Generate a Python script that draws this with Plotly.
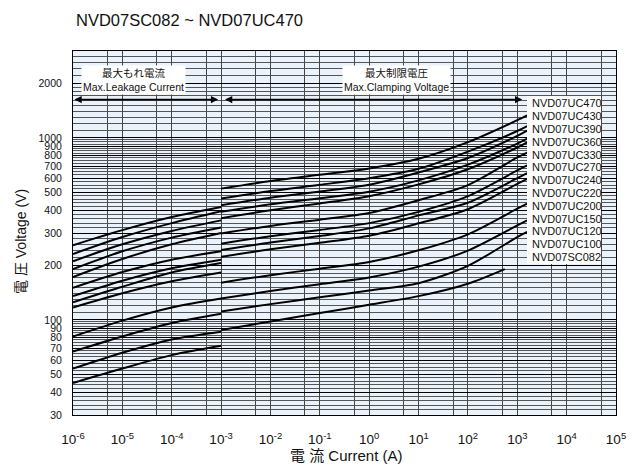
import math
import plotly.graph_objects as go

# ---------------- data ----------------
models = ["NVD07UC470", "NVD07UC430", "NVD07UC390", "NVD07UC360", "NVD07UC330",
          "NVD07UC270", "NVD07UC240", "NVD07UC220", "NVD07UC200", "NVD07UC150",
          "NVD07UC120", "NVD07UC100", "NVD07SC082"]

# Max. leakage current region (A) and voltages (V)
leak_current = [1e-6, 1e-5, 1e-4, 1e-3]
leak_470 = [257, 311, 367, 417]
leak_430 = [230, 285, 340, 395]
leak_390 = [210, 260, 308, 352]
leak_360 = [190, 238, 283, 322]
leak_330 = [172, 216, 260, 300]
leak_270 = [150, 183, 214, 238]
leak_240 = [135, 164, 192, 214]
leak_220 = [125, 152, 182, 205]
leak_200 = [117, 140, 163, 182]
leak_150 = [81, 99, 117, 131]
leak_120 = [67, 81, 96, 108]
leak_100 = [54, 66, 78, 86]
leak_082 = [45, 54, 64, 72]

# Max. clamping voltage region (A) and voltages (V)
clamp_current = [1e-3, 1e-2, 1e-1, 1, 10, 100, 1000, 1585]
clamp_current_082 = [1e-3, 1e-2, 1e-1, 1, 10, 100, 560]
clamp_470 = [526, 579, 626, 679, 767, 947, 1250, 1330]
clamp_430 = [464, 510, 552, 600, 676, 840, 1090, 1160]
clamp_390 = [426, 469, 507, 552, 645, 775, 1025, 1095]
clamp_360 = [392, 431, 466, 506, 584, 712, 930, 990]
clamp_330 = [362, 400, 436, 478, 555, 672, 885, 945]
clamp_270 = [298, 328, 355, 386, 454, 550, 780, 830]
clamp_240 = [262, 288, 312, 340, 392, 478, 662, 705]
clamp_220 = [242, 266, 289, 318, 375, 440, 600, 640]
clamp_200 = [222, 244, 265, 290, 339, 405, 558, 595]
clamp_150 = [160, 176, 191, 208, 241, 295, 408, 435]
clamp_120 = [131, 144, 157, 171, 196, 240, 330, 352]
clamp_100 = [111, 122, 133, 145, 159, 198, 285, 304]
clamp_082 = [88, 98, 109, 121, 135, 158, 190]

# axis ticks
x_tick_exponents = [-6, -5, -4, -3, -2, -1, 0, 1, 2, 3, 4, 5]
y_tick_values = [30, 40, 50, 60, 70, 80, 90, 100, 200, 300, 400, 500, 600,
                 700, 800, 900, 1000, 2000]
y_minor_values = ([32, 34, 36, 38, 42, 44, 46, 48]
                  + [52.5, 55, 57.5, 62.5, 65, 67.5, 72.5, 75, 77.5, 82.5, 85, 87.5, 92.5, 95, 97.5]
                  + [110, 120, 130, 140, 150, 160, 170, 180, 190]
                  + [220, 240, 260, 280, 320, 340, 360, 380, 420, 440, 460, 480]
                  + [525, 550, 575, 625, 650, 675, 725, 750, 775, 825, 850, 875, 925, 950, 975]
                  + [1100, 1200, 1300, 1400, 1500, 1600, 1700, 1800, 1900]
                  + [2200, 2400, 2600, 2800, 3000])

title_text = "NVD07SC082 ~ NVD07UC470"
leak_label = "最大もれ電流<br>Max.Leakage Current"
clamp_label = "最大制限電圧<br>Max.Clamping Voltage"
x_title = "電 流 Current (A)"
y_title = "電 圧 Voltage (V)"

leak_series = [leak_470, leak_430, leak_390, leak_360, leak_330, leak_270, leak_240,
               leak_220, leak_200, leak_150, leak_120, leak_100, leak_082]
clamp_series = [clamp_470, clamp_430, clamp_390, clamp_360, clamp_330, clamp_270, clamp_240,
                clamp_220, clamp_200, clamp_150, clamp_120, clamp_100, clamp_082]
clamp_x = [clamp_current] * 12 + [clamp_current_082]

FONT = "Arial, 'Liberation Sans', 'Noto Sans CJK JP', sans-serif"
TXT = "#111"

fig = go.Figure()
line_style = dict(color="black", width=2, shape="spline", smoothing=0.8)
for name, lv in zip(models, leak_series):
    fig.add_trace(go.Scatter(x=leak_current, y=lv, mode="lines", line=line_style,
                             name=name, showlegend=False, hoverinfo="skip"))
for name, cx, cv in zip(models, clamp_x, clamp_series):
    fig.add_trace(go.Scatter(x=cx, y=cv, mode="lines", line=line_style,
                             name=name, showlegend=False, hoverinfo="skip"))

# plot geometry (screen pixels); the page body adds an 8px offset
OFF = 8
L, R, T, B = 73, 616, 51, 415
W, H = 641, 469
PW, PH = R - L, B - T


def px(xpix):
    return (xpix - L) / PW


def py(ypix):
    return (B - ypix) / PH


annotations = []
# title
annotations.append(dict(text=title_text, xref="paper", yref="paper", x=px(74), y=py(20),
                        xanchor="left", yanchor="middle", showarrow=False,
                        font=dict(size=16.5, color=TXT, family=FONT)))
# axis titles
annotations.append(dict(text=x_title, xref="paper", yref="paper", x=px(346), y=py(455),
                        xanchor="center", yanchor="middle", showarrow=False,
                        font=dict(size=15, color=TXT, family=FONT)))
annotations.append(dict(text=y_title, xref="paper", yref="paper", x=px(21), y=py(242),
                        xanchor="center", yanchor="middle", showarrow=False, textangle=-90,
                        font=dict(size=14, color=TXT, family=FONT)))
# region boxes
annotations.append(dict(text=leak_label, xref="paper", yref="paper", x=px(133.5), y=py(80),
                        xanchor="center", yanchor="middle", showarrow=False,
                        bgcolor="white", borderpad=1, align="center",
                        font=dict(size=10.5, color=TXT, family=FONT)))
annotations.append(dict(text=clamp_label, xref="paper", yref="paper", x=px(396.5), y=py(80),
                        xanchor="center", yanchor="middle", showarrow=False,
                        bgcolor="white", borderpad=1, align="center",
                        font=dict(size=10.5, color=TXT, family=FONT)))
# arrows (in log10 axis units)
arrow_y = math.log10(1622)
for x0, x1 in [(-6.0, -3.06), (-2.95, 3.1)]:
    annotations.append(dict(text="", x=x1, y=arrow_y, ax=x0, ay=arrow_y,
                            xref="x", yref="y", axref="x", ayref="y",
                            showarrow=True, arrowhead=2, arrowside="end+start",
                            arrowsize=0.9, arrowwidth=1.6, arrowcolor="black"))
# model labels
for i, name in enumerate(models):
    annotations.append(dict(text=name, xref="paper", yref="paper", x=px(530),
                            y=py(103.3 + i * 12.8), xanchor="left", yanchor="middle",
                            showarrow=False, font=dict(size=11, color=TXT, family=FONT)))

shapes = [dict(type="rect", xref="paper", yref="paper", x0=px(527), x1=px(601),
               y0=py(96), y1=py(264), fillcolor="white", line=dict(width=0), layer="above")]

fig.update_layout(
    width=W - OFF, height=H - OFF,
    margin=dict(l=L - OFF, r=W - R, t=T - OFF, b=H - B, pad=0),
    paper_bgcolor="white", plot_bgcolor="#eaf2fb",
    font=dict(family=FONT, color=TXT),
    annotations=annotations, shapes=shapes,
    showlegend=False,
)
fig.update_xaxes(
    type="log", range=[-6, 5],
    tickmode="array",
    tickvals=[10 ** e for e in x_tick_exponents],
    ticktext=["10<sup>%d</sup>" % e for e in x_tick_exponents],
    tickfont=dict(size=13.5, color=TXT),
    ticks="", ticklabelstandoff=12,
    showgrid=True, gridcolor="#444", gridwidth=1.4,
    minor=dict(tickmode="array", tickvals=[5 * 10 ** e for e in x_tick_exponents[:-1]],
               showgrid=True, gridcolor="#444", gridwidth=1.4, ticks=""),
    showline=True, linecolor="black", linewidth=1, mirror=True,
    zeroline=False,
)
fig.update_yaxes(
    type="log", range=[math.log10(30), math.log10(3000)],
    tickmode="array", tickvals=y_tick_values, ticktext=[str(v) for v in y_tick_values],
    tickfont=dict(size=10.5, color=TXT),
    ticks="", ticklabelstandoff=8,
    showgrid=True, gridcolor="black", gridwidth=1.1,
    minor=dict(tickmode="array", tickvals=y_minor_values, showgrid=True,
               gridcolor="#555", gridwidth=1, ticks=""),
    showline=True, linecolor="black", linewidth=1, mirror=True,
    zeroline=False,
)

fig.write_html("out.html")
